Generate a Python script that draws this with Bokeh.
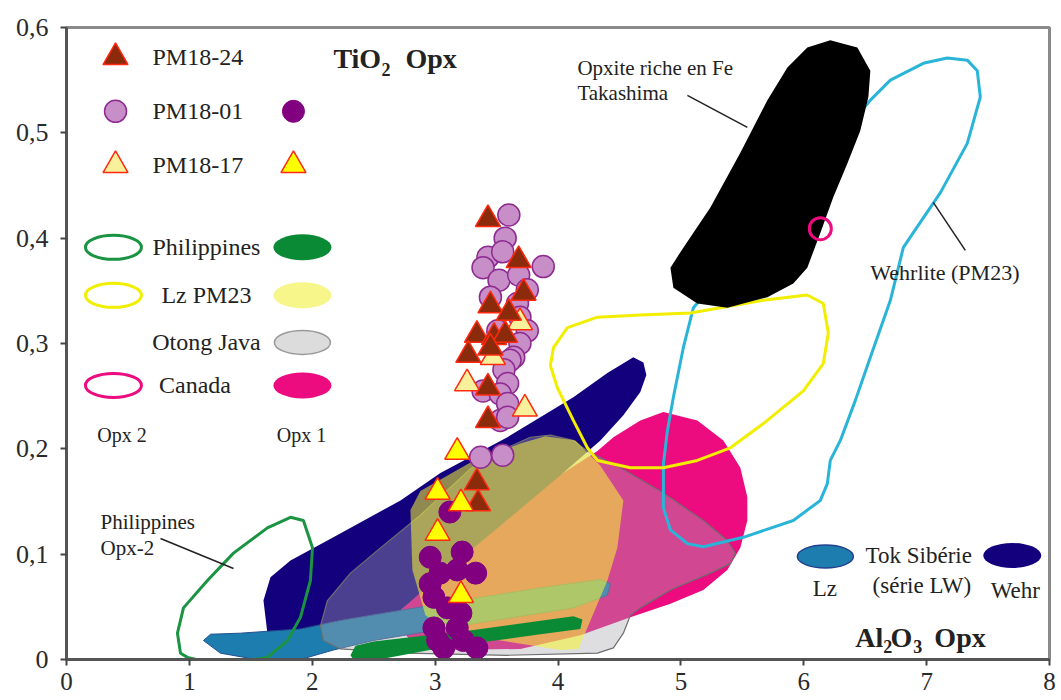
from bokeh.plotting import figure
from bokeh.models import Range1d, CustomJSTickFormatter, FixedTicker
from bokeh.core.properties import value
from bokeh.embed import file_html
from bokeh.resources import INLINE

# ---------------- data (Al2O3 wt% , TiO2 wt%) ----------------
# Tok (Siberia) LW series - Wehrlite field
tok_wehr_x = [1.635, 1.603, 1.660, 1.823, 2.172, 2.718, 3.043, 3.588, 4.125, 4.402, 4.613, 4.695, 4.719,
              4.670, 4.532, 4.345, 4.020, 3.531, 3.043, 2.653, 2.229, 1.823]
tok_wehr_y = [0.025, 0.056, 0.078, 0.094, 0.116, 0.151, 0.177, 0.211, 0.249, 0.272, 0.287, 0.282, 0.270,
              0.254, 0.232, 0.208, 0.175, 0.127, 0.080, 0.040, 0.029, 0.023]
# Tok (Siberia) LW series - Lherzolite field
tok_lz_x = [1.115, 1.172, 1.416, 1.904, 2.229, 3.043, 3.857, 4.345, 4.426, 4.402, 4.125, 3.312, 2.498,
            2.172, 1.904, 1.497, 1.253]
tok_lz_y = [0.018, 0.024, 0.025, 0.029, 0.037, 0.053, 0.068, 0.076, 0.072, 0.061, 0.049, 0.034, 0.018,
            0.009, 0.000, 0.001, 0.006]
# Canada Opx 1
canada1_x = [2.653, 3.124, 3.694, 4.321, 4.451, 4.670, 4.858, 5.134, 5.346, 5.484, 5.541, 5.541, 5.484,
             5.378, 5.183, 4.915, 4.589, 4.182, 3.694, 3.124, 2.799]
canada1_y = [0.039, 0.094, 0.151, 0.198, 0.211, 0.227, 0.235, 0.227, 0.208, 0.182, 0.154, 0.132, 0.106,
             0.085, 0.066, 0.053, 0.040, 0.023, 0.010, 0.009, 0.018]
# Canada Opx 2 (single analysis)
canada2_x = [6.135]
canada2_y = [0.409]
# Otong Java
otong_x = [2.091, 2.067, 2.124, 2.311, 2.555, 2.880, 3.287, 3.531, 3.775, 3.938, 4.125, 4.239, 4.508,
           4.858, 5.183, 5.378, 5.443, 5.403, 5.240, 4.915, 4.670, 4.589, 4.532, 4.451, 4.321, 3.588,
           2.775, 2.229]
otong_y = [0.018, 0.032, 0.056, 0.082, 0.106, 0.137, 0.181, 0.198, 0.211, 0.213, 0.208, 0.198, 0.182,
           0.158, 0.132, 0.113, 0.101, 0.091, 0.082, 0.066, 0.049, 0.042, 0.025, 0.011, 0.006, 0.004,
           0.006, 0.010]
# Lz PM23 Opx 1
lzpm23_1_x = [2.799, 2.880, 3.287, 3.694, 3.897, 4.142, 4.345, 4.532, 4.483, 4.402, 4.264, 4.166, 4.020,
              3.531, 3.043, 2.921, 2.815]
lzpm23_1_y = [0.142, 0.160, 0.187, 0.205, 0.212, 0.208, 0.184, 0.151, 0.106, 0.075, 0.037, 0.010, 0.009,
              0.018, 0.032, 0.042, 0.085]
# Lz PM23 Opx 2
lzpm23_2_x = [3.938, 3.963, 4.077, 4.321, 4.670, 5.077, 5.671, 6.029, 6.159, 6.200, 6.159, 5.997, 5.671,
              5.403, 5.134, 4.858, 4.589, 4.321, 4.239, 4.125, 3.995]
lzpm23_2_y = [0.279, 0.296, 0.315, 0.325, 0.327, 0.329, 0.341, 0.346, 0.338, 0.310, 0.281, 0.255, 0.224,
              0.201, 0.189, 0.182, 0.182, 0.189, 0.201, 0.227, 0.258]
# Philippines Opx 1
phil1_x = [2.311, 2.352, 2.498, 3.312, 4.125, 4.199, 4.182, 3.857, 3.043, 2.498, 2.352]
phil1_y = [0.004, 0.013, 0.017, 0.028, 0.041, 0.038, 0.029, 0.024, 0.011, -0.001, -0.003]
# Philippines Opx 2
phil2_x = [0.928, 0.903, 0.952, 1.147, 1.359, 1.635, 1.823, 1.928, 2.002, 1.985, 1.904, 1.798, 1.635,
           1.359, 1.090, 0.985]
phil2_y = [0.006, 0.025, 0.049, 0.075, 0.101, 0.125, 0.135, 0.132, 0.106, 0.075, 0.040, 0.018, 0.002,
           -0.003, -0.001, 0.002]
# Wehrlite PM23
wehr_x = [5.102, 5.020, 4.939, 4.890, 4.858, 4.858, 4.915, 5.053, 5.183, 5.508, 5.915, 6.135, 6.192,
          6.216, 6.298, 6.420, 6.542, 6.705, 6.810, 6.867, 7.111, 7.331, 7.437, 7.412, 7.331, 7.168,
          6.973, 6.705, 6.542]
wehr_y = [0.334, 0.296, 0.249, 0.217, 0.186, 0.144, 0.123, 0.110, 0.107, 0.116, 0.132, 0.151, 0.167,
          0.189, 0.208, 0.246, 0.287, 0.341, 0.391, 0.401, 0.443, 0.490, 0.534, 0.559, 0.569, 0.571,
          0.566, 0.550, 0.531]
# Fe-rich orthopyroxenite, Takashima
taka_x = [6.216, 6.436, 6.542, 6.526, 6.460, 6.355, 6.241, 6.135, 6.029, 5.915, 5.704, 5.378, 5.134,
          4.939, 4.915, 5.020, 5.240, 5.484, 5.704, 5.867, 6.029]
taka_y = [0.588, 0.581, 0.559, 0.534, 0.502, 0.471, 0.439, 0.405, 0.372, 0.357, 0.344, 0.334, 0.338,
          0.353, 0.372, 0.391, 0.429, 0.481, 0.531, 0.562, 0.581]

# Samples
pm1824_x = [3.43, 3.68, 3.72, 3.45, 3.60, 3.34, 3.48, 3.57, 3.27, 3.45, 3.43, 3.43, 3.34, 3.35]
pm1824_y = [0.418, 0.379, 0.348, 0.336, 0.329, 0.308, 0.306, 0.308, 0.289, 0.296, 0.258, 0.227, 0.168, 0.148]
pm1801_opx2_x = [3.60, 3.57, 3.43, 3.55, 3.88, 3.39, 3.52, 3.68, 3.45, 3.75, 3.67, 3.69, 3.75, 3.51, 3.69,
                 3.64, 3.61, 3.56, 3.59, 3.39, 3.53, 3.59, 3.53, 3.59, 3.37, 3.55]
pm1801_opx2_y = [0.422, 0.400, 0.382, 0.387, 0.373, 0.372, 0.360, 0.365, 0.344, 0.351, 0.338, 0.325, 0.312,
                 0.312, 0.300, 0.287, 0.284, 0.275, 0.262, 0.255, 0.252, 0.243, 0.227, 0.230, 0.192, 0.194]
pm1801_opx1_x = [3.12, 2.96, 3.22, 3.33, 3.04, 2.96, 3.18, 2.99, 3.21, 2.99, 3.18, 3.02, 3.23, 3.34, 3.07, 3.10]
pm1801_opx1_y = [0.140, 0.097, 0.102, 0.082, 0.082, 0.072, 0.085, 0.059, 0.044, 0.030, 0.030, 0.018, 0.018,
                 0.011, 0.011, 0.049]
pm1817_opx2_x = [3.69, 3.47, 3.26, 3.73]
pm1817_opx2_y = [0.320, 0.287, 0.262, 0.238]
pm1817_opx1_x = [3.18, 3.02, 3.21, 3.02, 3.21]
pm1817_opx1_y = [0.197, 0.159, 0.148, 0.120, 0.061]

x_ticks = [0, 1, 2, 3, 4, 5, 6, 7, 8]
y_ticks = [0, 0.1, 0.2, 0.3, 0.4, 0.5, 0.6]

# ---------------- styles ----------------
SERIF = value("Liberation Serif")
NAVY = "#13007C"
PINK = "#EC0C80"
TEAL = "#1E7DAF"
GREEN = "#0B8A35"
GREEN_LINE = "#1A9442"
YELLOW_LINE = "#F2EE00"
CYAN = "#2AB4D8"
TXT = "#222222"

p = figure(width=1059, height=698, output_backend="svg", toolbar_location=None,
           x_range=Range1d(0, 8), y_range=Range1d(0, 0.6),
           min_border_left=66, min_border_top=27, min_border_right=10, min_border_bottom=39,
           background_fill_color="white", border_fill_color="white")
p.grid.visible = False
p.outline_line_color = "#8A8A8A"
p.outline_line_width = 3

for ax in (p.xaxis[0], p.yaxis[0]):
    ax.axis_line_width = 3
    ax.axis_line_color = "#555555"
    ax.major_tick_in = 0
    ax.major_tick_out = 6
    ax.major_tick_line_color = "#444444"
    ax.major_tick_line_width = 2
    ax.minor_tick_line_color = None
    ax.major_label_text_font = "Liberation Serif"
    ax.major_label_text_color = "#2A2A2A"
p.xaxis[0].ticker = FixedTicker(ticks=x_ticks)
p.yaxis[0].ticker = FixedTicker(ticks=y_ticks)
p.xaxis[0].major_label_text_font_size = "25px"
p.yaxis[0].major_label_text_font_size = "26px"
p.xaxis[0].major_label_standoff = 7
p.yaxis[0].major_label_standoff = 12
p.xaxis[0].formatter = CustomJSTickFormatter(code="return tick.toFixed(0);")
p.yaxis[0].formatter = CustomJSTickFormatter(
    code="return tick == 0 ? '0' : tick.toFixed(1).replace('.', ',');")

# ---------------- fields ----------------
p.patch(canada1_x, canada1_y, fill_color=PINK, line_color=None)
p.patch(tok_wehr_x, tok_wehr_y, fill_color=NAVY, line_color=None)
p.patch(tok_lz_x, tok_lz_y, fill_color=TEAL, line_color="#23508F", line_width=1)
p.patch(otong_x, otong_y, fill_color="#A8A8B0", fill_alpha=0.38, line_color="#6E6E6E", line_width=1.2)
p.patch(lzpm23_1_x, lzpm23_1_y, fill_color="#F5F532", fill_alpha=0.56, line_color=None)
p.patch(phil1_x, phil1_y, fill_color=GREEN, line_color=None)
p.patch(phil2_x, phil2_y, fill_alpha=0, line_color=GREEN_LINE, line_width=3)
p.patch(wehr_x, wehr_y, fill_alpha=0, line_color=CYAN, line_width=3)
p.patch(lzpm23_2_x, lzpm23_2_y, fill_alpha=0, line_color=YELLOW_LINE, line_width=3)
p.patch(taka_x, taka_y, fill_color="black", line_color=None)
p.scatter(canada2_x, canada2_y, marker="circle", size=22, fill_alpha=0, line_color=PINK, line_width=3)

# ---------------- samples ----------------
p.scatter(pm1801_opx1_x, pm1801_opx1_y, marker="circle", size=22, fill_color="#800080", line_color="#800080")
p.scatter(pm1801_opx2_x, pm1801_opx2_y, marker="circle", size=22, fill_color="#C88EC8",
          line_color="#8E2B91", line_width=1.5)
p.scatter(pm1817_opx2_x, pm1817_opx2_y, marker="triangle", size=25, fill_color="#F8F09A",
          line_color="#FF2A10", line_width=1.5)
p.scatter(pm1824_x, pm1824_y, marker="triangle", size=25, fill_color="#8C2A0C",
          line_color="#FF2A10", line_width=1.5)
p.scatter(pm1817_opx1_x, pm1817_opx1_y, marker="triangle", size=25, fill_color="#FFFF00",
          line_color="#FF2A10", line_width=1.5)


def txt(x, y, s, size="24px", align="left", baseline="middle", bold=False):
    p.text(x=[x], y=[y], text=[s], text_font=SERIF, text_font_size=size, text_align=align,
           text_baseline=baseline, text_color=TXT, text_font_style="bold" if bold else "normal")


# ---------------- legend (top left) ----------------
p.scatter([0.399], [0.5717], marker="triangle", size=25, fill_color="#8C2A0C", line_color="#FF2A10", line_width=1.5)
p.scatter([0.399], [0.5204], marker="circle", size=22, fill_color="#C88EC8", line_color="#8E2B91", line_width=1.5)
p.scatter([1.847], [0.5204], marker="circle", size=22, fill_color="#800080", line_color="#800080")
p.scatter([0.399], [0.4691], marker="triangle", size=25, fill_color="#F8F09A", line_color="#FF2A10", line_width=1.5)
p.scatter([1.847], [0.4691], marker="triangle", size=25, fill_color="#FFFF00", line_color="#FF2A10", line_width=1.5)
txt(0.70, 0.5717, "PM18-24")
txt(0.70, 0.5204, "PM18-01")
txt(0.70, 0.4691, "PM18-17")

ew, eh = 56, 24
p.ellipse([0.382], [0.3913], width=ew, height=eh, width_units="screen", height_units="screen",
          fill_alpha=0, line_color=GREEN_LINE, line_width=3)
p.ellipse([1.920], [0.3913], width=ew + 2, height=eh + 2, width_units="screen", height_units="screen",
          fill_color=GREEN, line_color=None)
p.ellipse([0.382], [0.3457], width=ew, height=eh, width_units="screen", height_units="screen",
          fill_alpha=0, line_color=YELLOW_LINE, line_width=3)
p.ellipse([1.920], [0.3457], width=ew + 2, height=eh + 2, width_units="screen", height_units="screen",
          fill_color="#F6F68A", line_color=None)
p.ellipse([1.920], [0.3010], width=ew, height=eh, width_units="screen", height_units="screen",
          fill_color="#DCDCDC", line_color="#9A9A9A", line_width=1.5)
p.ellipse([0.382], [0.2602], width=ew, height=eh, width_units="screen", height_units="screen",
          fill_alpha=0, line_color=PINK, line_width=3)
p.ellipse([1.920], [0.2602], width=ew + 2, height=eh + 2, width_units="screen", height_units="screen",
          fill_color=PINK, line_color=None)
txt(1.139, 0.3913, "Philippines", align="center")
txt(1.139, 0.3457, "Lz PM23", align="center")
txt(1.139, 0.3010, "Otong Java", align="center")
txt(1.046, 0.2602, "Canada", align="center")
txt(0.452, 0.2127, "Opx 2", size="20px", align="center")
txt(1.912, 0.2127, "Opx 1", size="20px", align="center")

# ---------------- legend (Tok, bottom right) ----------------
p.ellipse([6.176], [0.0978], width=56, height=23, width_units="screen", height_units="screen",
          fill_color=TEAL, line_color="#23408F", line_width=1.5)
p.ellipse([7.697], [0.0988], width=58, height=25, width_units="screen", height_units="screen",
          fill_color=NAVY, line_color=None)
txt(6.936, 0.0988, "Tok Sibérie", size="23px", align="center")
txt(6.961, 0.0703, "(série LW)", size="23px", align="center")
txt(6.172, 0.0674, "Lz", size="23px", align="center")
txt(7.722, 0.0655, "Wehr", size="23px", align="center")

# ---------------- axis titles (inside) ----------------
txt(2.172, 0.5708, "TiO", size="28px", baseline="alphabetic", bold=True)
txt(2.563, 0.5603, "2", size="18px", baseline="alphabetic", bold=True)
txt(2.758, 0.5708, "Opx", size="28px", baseline="alphabetic", bold=True)
txt(6.420, 0.0209, "Al", size="28px", baseline="alphabetic", bold=True)
txt(6.648, 0.0120, "2", size="18px", baseline="alphabetic", bold=True)
txt(6.705, 0.0209, "O", size="28px", baseline="alphabetic", bold=True)
txt(6.892, 0.0120, "3", size="18px", baseline="alphabetic", bold=True)
txt(7.063, 0.0209, "Opx", size="28px", baseline="alphabetic", bold=True)

# ---------------- annotations ----------------
txt(0.277, 0.1301, "Philippines", size="21px")
txt(0.277, 0.1054, "Opx-2", size="21px")
p.segment(x0=[0.765], y0=[0.1149], x1=[1.359], y1=[0.0864], line_color=TXT, line_width=1.5)
txt(4.158, 0.5613, "Opxite riche en Fe", size="21px")
txt(4.158, 0.5375, "Takashima", size="21px")
p.segment(x0=[5.053], y0=[0.5356], x1=[5.541], y1=[0.5052], line_color=TXT, line_width=1.5)
txt(6.542, 0.3675, "Wehrlite (PM23)", size="22px")
p.segment(x0=[7.054], y0=[0.4340], x1=[7.315], y1=[0.3884], line_color=TXT, line_width=1.5)

open("out.html", "w").write(file_html(p, INLINE))
